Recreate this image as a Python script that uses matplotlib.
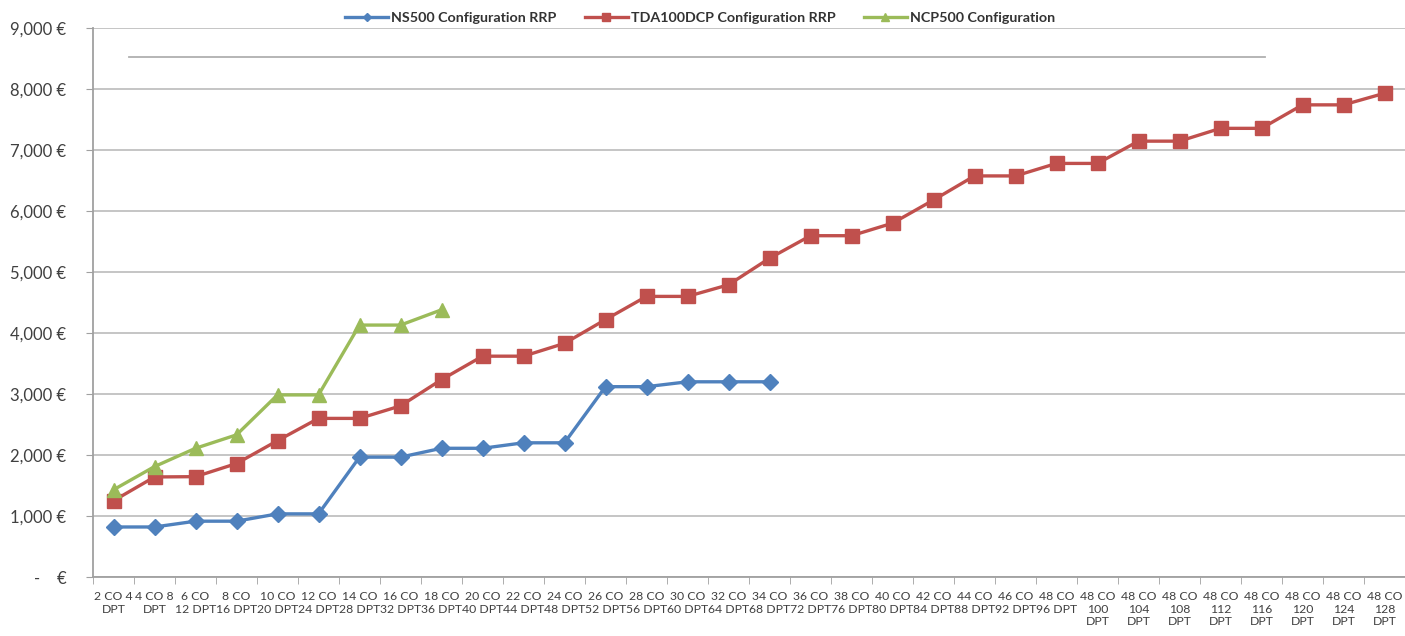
import matplotlib.pyplot as plt
from matplotlib.lines import Line2D
import numpy as np

# category labels (wrapped as in the original Excel chart)
labels = [
    "2 CO 4\nDPT", "4 CO 8\nDPT", "6 CO\n12 DPT", "8 CO\n16 DPT", "10 CO\n20 DPT",
    "12 CO\n24 DPT", "14 CO\n28 DPT", "16 CO\n32 DPT", "18 CO\n36 DPT", "20 CO\n40 DPT",
    "22 CO\n44 DPT", "24 CO\n48 DPT", "26 CO\n52 DPT", "28 CO\n56 DPT", "30 CO\n60 DPT",
    "32 CO\n64 DPT", "34 CO\n68 DPT", "36 CO\n72 DPT", "38 CO\n76 DPT", "40 CO\n80 DPT",
    "42 CO\n84 DPT", "44 CO\n88 DPT", "46 CO\n92 DPT", "48 CO\n96 DPT",
    "48 CO\n100\nDPT", "48 CO\n104\nDPT", "48 CO\n108\nDPT", "48 CO\n112\nDPT",
    "48 CO\n116\nDPT", "48 CO\n120\nDPT", "48 CO\n124\nDPT", "48 CO\n128\nDPT",
]

ns500 = [820, 820, 915, 915, 1035, 1035, 1965, 1965, 2110, 2110, 2200, 2200,
         3120, 3120, 3200, 3200, 3200]
tda100 = [1250, 1640, 1645, 1860, 2235, 2600, 2600, 2805, 3235, 3620, 3620, 3830,
          4220, 4600, 4600, 4790, 5225, 5595, 5595, 5800, 6180, 6575, 6575, 6780,
          6780, 7145, 7145, 7355, 7355, 7740, 7740, 7930]
ncp500 = [1430, 1810, 2110, 2330, 2985, 2985, 4130, 4130, 4380]

y_ticks = [0, 1000, 2000, 3000, 4000, 5000, 6000, 7000, 8000, 9000]
y_labels = ["-    €", "1,000 €", "2,000 €", "3,000 €", "4,000 €", "5,000 €",
            "6,000 €", "7,000 €", "8,000 €", "9,000 €"]

plt.rcParams["font.family"] = ["Lato", "DejaVu Sans"]

W, H = 1405, 636
fig = plt.figure(figsize=(W / 100, H / 100), dpi=100)
ax = fig.add_axes([93 / W, 1 - 577 / H, (W - 93) / W, (577 - 28) / H])

blue, red, green = "#4F81BD", "#C0504D", "#9BBB59"
ax.plot(np.arange(len(ns500)), ns500, color=blue, lw=2.4, marker="D",
        markersize=8.5, label="NS500 Configuration RRP", zorder=3)
ax.plot(np.arange(len(tda100)), tda100, color=red, lw=2.4, marker="s",
        markersize=10.5, label="TDA100DCP Configuration RRP", zorder=3)
ax.plot(np.arange(len(ncp500)), ncp500, color=green, lw=2.4, marker="^",
        markersize=10.5, label="NCP500 Configuration", zorder=4)

ax.set_xlim(-0.5, len(labels) - 0.5)
ax.set_ylim(0, 9000)

ax.set_yticks(y_ticks)
ax.set_yticklabels(y_labels, fontsize=12, color="#404040")
ax.tick_params(axis="y", length=5, color="#A0A0A0", pad=14)
ax.yaxis.grid(True, color="#C0C0C0", lw=1.3)
ax.set_axisbelow(True)

ax.set_xticks(np.arange(len(labels)))
ax.set_xticklabels(labels, fontsize=8.8, color="#404040", linespacing=1.2)
ax.set_xticks(np.arange(len(labels) + 1) - 0.5, minor=True)
ax.tick_params(axis="x", which="major", length=0, pad=10)
ax.tick_params(axis="x", which="minor", length=5, color="#A0A0A0")

for side in ["top", "right"]:
    ax.spines[side].set_visible(False)
for side in ["left", "bottom"]:
    ax.spines[side].set_color("#A0A0A0")
    ax.spines[side].set_linewidth(1.3)

leg = fig.legend(loc="center", bbox_to_anchor=(700 / W, 1 - 18 / H), ncol=3,
                 frameon=False, handlelength=3.0, columnspacing=2.0,
                 handletextpad=0.2, markerscale=0.5,
                 prop={"weight": "bold", "size": 10.3})
for t in leg.get_texts():
    t.set_color("#333333")

# stray grey line under the legend, as in the original
fig.add_artist(Line2D([129 / W, 1265 / W], [1 - 57 / H, 1 - 57 / H],
                      color="#B0B0B0", lw=1.3, transform=fig.transFigure))

fig.savefig("out.png", dpi=100)
